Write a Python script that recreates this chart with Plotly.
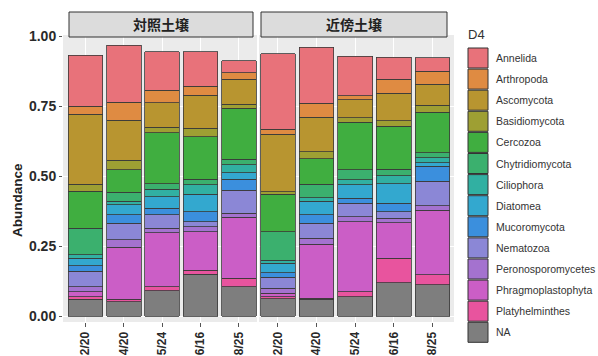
import plotly.graph_objects as go

W, H = 598, 356

# ---------------- data ----------------
# sample labels as visible in the reference (date endings)
sample_dates = ["2/20", "4/20", "5/24", "6/16", "8/25"]
group_names = ["対照土壌", "近傍土壌"]
legend_title = "D4"

phyla = ["Annelida", "Arthropoda", "Ascomycota", "Basidiomycota", "Cercozoa",
         "Chytridiomycota", "Ciliophora", "Diatomea", "Mucoromycota", "Nematozoa",
         "Peronosporomycetes", "Phragmoplastophyta", "Platyhelminthes", "NA"]

# values: first five = 対照土壌, last five = 近傍土壌
annelida           = [0.182, 0.204, 0.137, 0.123, 0.043, 0.269, 0.199, 0.140, 0.079, 0.048]
arthropoda         = [0.029, 0.064, 0.045, 0.032, 0.024, 0.017, 0.051, 0.014, 0.050, 0.048]
ascomycota         = [0.251, 0.143, 0.086, 0.119, 0.088, 0.206, 0.123, 0.065, 0.098, 0.075]
basidiomycota      = [0.024, 0.033, 0.021, 0.030, 0.015, 0.009, 0.024, 0.016, 0.021, 0.024]
cercozoa           = [0.133, 0.081, 0.181, 0.152, 0.182, 0.134, 0.092, 0.169, 0.152, 0.145]
chytridiomycota    = [0.095, 0.032, 0.021, 0.020, 0.020, 0.101, 0.048, 0.036, 0.024, 0.018]
ciliophora         = [0.012, 0.012, 0.026, 0.033, 0.028, 0.012, 0.012, 0.018, 0.029, 0.018]
diatomea           = [0.027, 0.036, 0.041, 0.062, 0.024, 0.034, 0.048, 0.048, 0.069, 0.012]
mucoromycota       = [0.019, 0.030, 0.024, 0.036, 0.038, 0.016, 0.030, 0.018, 0.030, 0.054]
nematozoa          = [0.055, 0.060, 0.048, 0.018, 0.083, 0.039, 0.054, 0.048, 0.024, 0.087]
peronosporomycetes = [0.018, 0.026, 0.016, 0.018, 0.014, 0.018, 0.021, 0.018, 0.016, 0.017]
phragmoplastophyta = [0.018, 0.186, 0.193, 0.137, 0.218, 0.012, 0.193, 0.250, 0.127, 0.230]
platyhelminthes    = [0.009, 0.009, 0.014, 0.015, 0.030, 0.007, 0.004, 0.018, 0.087, 0.036]
na_values          = [0.060, 0.051, 0.090, 0.149, 0.105, 0.062, 0.060, 0.069, 0.119, 0.111]

series = [annelida, arthropoda, ascomycota, basidiomycota, cercozoa, chytridiomycota,
          ciliophora, diatomea, mucoromycota, nematozoa, peronosporomycetes,
          phragmoplastophyta, platyhelminthes, na_values]

colors = ["#E8727A", "#DF8B42", "#B89530", "#9E9F33", "#40AE40", "#3BB06E",
          "#31B0A2", "#33A8CF", "#3B8FDD", "#8B87D6", "#A472CF", "#CB5EC6",
          "#E8549E", "#7E7E7E"]

y_ticks = [0.0, 0.25, 0.5, 0.75, 1.0]
y_tick_text = ["0.00", "0.25", "0.50", "0.75", "1.00"]

# ---------------- helpers ----------------
def px_x(p):
    return p / W

def px_y(p):
    return 1 - p / H

fig = go.Figure()

# stack from bottom: NA first
for name, vals, col in reversed(list(zip(phyla, series, colors))):
    for gi, xa in enumerate(["x", "x2"]):
        fig.add_trace(go.Bar(
            x=sample_dates, y=vals[gi * 5:(gi + 1) * 5], name=name,
            marker=dict(color=col, line=dict(color="#3a3a3a", width=0.8)),
            width=0.9, xaxis=xa, yaxis="y", showlegend=False,
        ))

panel_top, panel_bot = 35, 322
y0_px, scale = 316, 280
y_range = [-(panel_bot - y0_px) / scale, (y0_px - panel_top) / scale]

common_x = dict(type="category", showgrid=True, gridcolor="#FFFFFF", gridwidth=1,
                tickangle=-90, ticks="outside", ticklen=4, tickcolor="#555555",
                tickfont=dict(family="Liberation Sans, Arial", size=12, color="#2a2a2a",
                              weight="bold"),
                showline=False, zeroline=False, anchor="y", automargin=False)

fig.update_layout(
    width=W, height=H,
    margin=dict(l=0, r=0, t=0, b=0),
    paper_bgcolor="#FFFFFF", plot_bgcolor="#EBEBEB",
    barmode="stack", bargap=0.1,
    font=dict(family="Liberation Sans, Arial", color="#333333"),
    xaxis=dict(domain=[px_x(63), px_x(257)], range=[-0.586, 4.47], **common_x),
    xaxis2=dict(domain=[px_x(259), px_x(454)], range=[-0.49, 4.56], **common_x),
    yaxis=dict(domain=[px_y(panel_bot), px_y(panel_top)], range=y_range,
               tickvals=y_ticks, ticktext=y_tick_text, showgrid=True,
               gridcolor="#FFFFFF", gridwidth=1, zeroline=False,
               ticks="outside", ticklen=3, tickcolor="#555555",
               tickfont=dict(family="Liberation Sans, Arial", size=14, color="#2a2a2a",
                             weight="bold"),
               automargin=False),
)

shapes = []
annotations = []

# facet strips
for (x0, x1), label in zip([(69, 253), (261, 447)], group_names):
    shapes.append(dict(type="rect", xref="paper", yref="paper",
                       x0=px_x(x0), x1=px_x(x1), y0=px_y(37), y1=px_y(12),
                       fillcolor="#DCDCDC", line=dict(color="#333333", width=1)))
    annotations.append(dict(xref="paper", yref="paper", x=px_x((x0 + x1) / 2), y=px_y(24.5),
                            text=label, showarrow=False, xanchor="center", yanchor="middle",
                            font=dict(family="Noto Sans CJK JP", size=14, color="#222222",
                                      weight="bold")))

# y-axis title
annotations.append(dict(xref="paper", yref="paper", x=px_x(17), y=px_y(200),
                        text="Abundance", showarrow=False, textangle=-90,
                        xanchor="center", yanchor="middle",
                        font=dict(family="Liberation Sans, Arial", size=13.5, color="#222222",
                                  weight="bold")))

# legend (drawn manually)
annotations.append(dict(xref="paper", yref="paper", x=px_x(466), y=px_y(35),
                        text=legend_title, showarrow=False, xanchor="left", yanchor="middle",
                        font=dict(family="Liberation Sans, Arial", size=13, color="#333333")))
step = 21.1
for i, (name, col) in enumerate(zip(phyla, colors)):
    top = 48 + i * step
    shapes.append(dict(type="rect", xref="paper", yref="paper",
                       x0=px_x(468), x1=px_x(488), y0=px_y(top + 20), y1=px_y(top),
                       fillcolor=col, line=dict(color="#333333", width=1)))
    annotations.append(dict(xref="paper", yref="paper", x=px_x(494), y=px_y(top + 10),
                            text=name, showarrow=False, xanchor="left", yanchor="middle",
                            font=dict(family="Liberation Sans, Arial", size=10.5,
                                      color="#333333")))

fig.update_layout(shapes=shapes, annotations=annotations)

fig.write_html("out.html")
